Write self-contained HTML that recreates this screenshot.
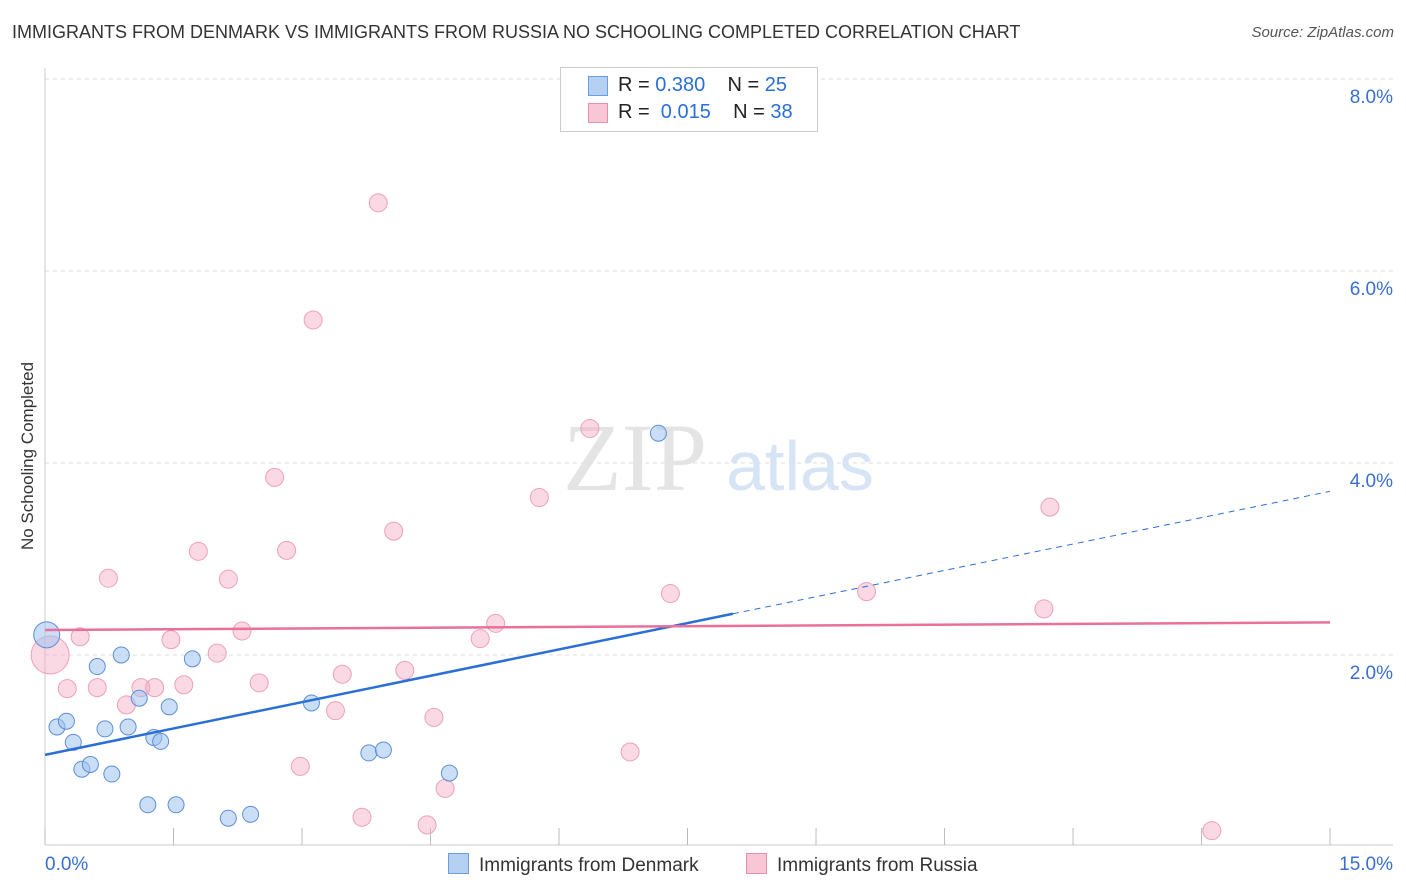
<!DOCTYPE html>
<html><head><meta charset="utf-8"><style>
body{margin:0;background:#fff;font-family:"Liberation Sans",sans-serif}
#c{position:relative;width:1406px;height:892px;overflow:hidden}
.t{position:absolute;white-space:nowrap}
</style></head><body>
<div id="c">
<div class="t" style="left:12px;top:22px;font-size:18px;color:#333">IMMIGRANTS FROM DENMARK VS IMMIGRANTS FROM RUSSIA NO SCHOOLING COMPLETED CORRELATION CHART</div>
<div class="t" style="right:12px;top:24px;font-size:15px;color:#555;font-style:italic">Source: ZipAtlas.com</div>
<div class="t" style="left:28px;top:456px;font-size:17px;color:#333;transform:translate(-50%,-50%) rotate(-90deg)">No Schooling Completed</div>
<svg id="s" width="1406" height="892" style="position:absolute;left:0;top:0"></svg>
<div class="t" style="left:560px;top:67px;width:256px;height:63px;border:1px solid #ccc;background:#fff;font-size:20px;color:#222">
<div style="position:absolute;left:27px;top:8px;width:18px;height:18px;background:#b6d0f2;border:1px solid #6a9ee0"></div>
<div style="position:absolute;left:57px;top:6px">R = <span style="color:#2a6fd6">0.380</span>&nbsp;&nbsp;&nbsp; N = <span style="color:#2a6fd6">25</span></div>
<div style="position:absolute;left:27px;top:35px;width:18px;height:18px;background:#f8c6d4;border:1px solid #e890aa"></div>
<div style="position:absolute;left:57px;top:33px">R = &nbsp;<span style="color:#2a6fd6">0.015</span>&nbsp;&nbsp;&nbsp; N = <span style="color:#2a6fd6">38</span></div>
</div>
<div class="t" style="left:448px;top:853px;font-size:19px;color:#333"><span style="display:inline-block;width:19px;height:19px;background:#b6d0f2;border:1px solid #6a9ee0;vertical-align:-3px;margin-right:10px"></span>Immigrants from Denmark</div>
<div class="t" style="left:746px;top:853px;font-size:19px;color:#333"><span style="display:inline-block;width:19px;height:19px;background:#f8c6d4;border:1px solid #e890aa;vertical-align:-3px;margin-right:10px"></span>Immigrants from Russia</div>
</div>
<script>
const denX=[0.02,0.14,0.25,0.33,0.43,0.53,0.61,0.70,0.78,0.89,0.97,1.10,1.20,1.27,1.35,1.45,1.53,1.72,2.14,2.40,3.11,3.78,3.95,4.72,7.16];
const denY=[2.21,1.25,1.31,1.09,0.81,0.86,1.88,1.23,0.76,2.00,1.25,1.55,0.44,1.14,1.10,1.46,0.44,1.96,0.30,0.34,1.50,0.98,1.01,0.77,4.31];
const rusX=[0.06,0.26,0.41,0.61,0.74,0.95,1.12,1.28,1.47,1.62,1.79,2.01,2.14,2.30,2.50,2.68,2.82,2.98,3.13,3.39,3.47,3.70,3.89,4.07,4.20,4.46,4.54,4.67,5.08,5.26,5.77,6.36,6.83,7.30,9.59,11.66,11.73,13.62];
const rusY=[2.00,1.65,2.19,1.66,2.80,1.48,1.66,1.66,2.16,1.69,3.08,2.02,2.79,2.25,1.71,3.85,3.09,0.84,5.49,1.42,1.80,0.31,6.71,3.29,1.84,0.23,1.35,0.61,2.17,2.33,3.64,4.36,0.99,2.64,2.66,2.48,3.54,0.17];
const denTrend=[0.96,0.183]; // intercept, slope
const rusTrend=[2.26,0.0053];
const yTicks=[2,4,6,8];
const xTickVals=[0,1.5,3,4.5,6,7.5,9,10.5,12,13.5,15];
const sx=v=>45+v*85.67, sy=v=>847-v*96;
const s=document.getElementById('s'),NS='http://www.w3.org/2000/svg';
function mk(t,a){const e=document.createElementNS(NS,t);for(const k in a)e.setAttribute(k,a[k]);s.appendChild(e);return e;}
yTicks.forEach(v=>{
 const l=mk('line',{x1:45,x2:1393,y1:sy(v),y2:sy(v),stroke:'#ddd','stroke-dasharray':'4,4'});
 
 
 const t=mk('text',{x:1393,y:sy(v)+24,'text-anchor':'end','font-size':19,fill:'#3a6fd0','font-family':'Liberation Sans'});
 t.textContent=v.toFixed(1)+'%';
 
 
});
mk('line',{x1:45,x2:45,y1:68,y2:845,stroke:'#ccc'});
mk('line',{x1:45,x2:1393,y1:845,y2:845,stroke:'#ccc'});
xTickVals.forEach(v=>{const l=mk('line',{x1:sx(v),x2:sx(v),y1:828,y2:845,stroke:'#bbb'});
 
 });
[[0,'start',45],[15,'end',1393]].forEach(([v,a,x])=>{const t=mk('text',{x:x,y:870,'text-anchor':a,'font-size':19,fill:'#3a6fd0','font-family':'Liberation Sans'});t.textContent=v.toFixed(1)+'%';
 
 });
const w1=mk('text',{x:635,y:490,'text-anchor':'middle','font-size':96,fill:'#e4e4e4','font-family':'Liberation Serif'});w1.textContent='ZIP';


const w2=mk('text',{x:800,y:490,'text-anchor':'middle','font-size':70,fill:'#d6e4f5','font-family':'Liberation Sans'});w2.textContent='atlas';


const big={0:13};
rusX.forEach((x,i)=>{const c=mk('circle',{cx:sx(x),cy:sy(rusY[i]),r:i==0?19:9,fill:'rgba(245,170,195,0.45)',stroke:'#eea0b8','stroke-width':1});
 
 });
denX.forEach((x,i)=>{const c=mk('circle',{cx:sx(x),cy:sy(denY[i]),r:i==0?13:8,fill:'rgba(160,195,240,0.55)',stroke:'#5d8fd6','stroke-width':1});
 
 });
const xe=8.03;
let l=mk('line',{x1:sx(0),y1:sy(denTrend[0]),x2:sx(xe),y2:sy(denTrend[0]+denTrend[1]*xe),stroke:'#2a6fd6','stroke-width':2.5});


l=mk('line',{x1:sx(xe),y1:sy(denTrend[0]+denTrend[1]*xe),x2:sx(15),y2:sy(denTrend[0]+denTrend[1]*15),stroke:'#2a6fd6','stroke-width':1,'stroke-dasharray':'6,5'});


l=mk('line',{x1:sx(0),y1:sy(rusTrend[0]),x2:sx(15),y2:sy(rusTrend[0]+rusTrend[1]*15),stroke:'#e8709a','stroke-width':2.5});


</script>
</body></html>
